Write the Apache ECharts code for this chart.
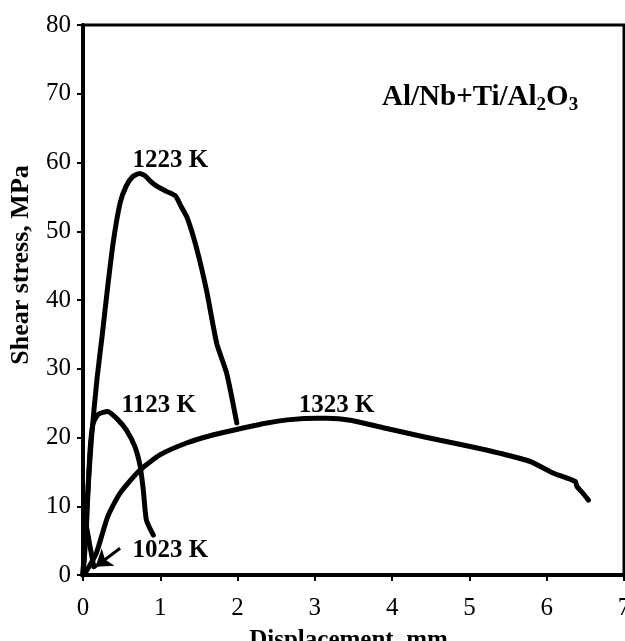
<!DOCTYPE html>
<html>
<head>
<meta charset="utf-8">
<script src="https://cdn.jsdelivr.net/npm/echarts@6/dist/echarts.min.js"></script>
<style>
  html, body { margin: 0; padding: 0; background: #fff; }
  #chart { width: 625px; height: 641px; }
</style>
</head>
<body>
<div id="chart"></div>
<script>
// shear stress vs displacement, Al/Nb+Ti/Al2O3 joints

var xTicks = [0, 1, 2, 3, 4, 5, 6, 7];
var yTicks = [0, 10, 20, 30, 40, 50, 60, 70, 80];

var curve1023 = [[0, 0], [0.03, 8], [0.09, 4.2], [0.14, 1.2]];
var curve1123 = [[0, 0], [0.04, 6], [0.06, 11], [0.09, 18], [0.13, 22], [0.2, 23.4], [0.32, 23.8],
	[0.45, 22.6], [0.56, 21.1], [0.67, 18.7], [0.74, 15.8], [0.78, 12.4], [0.82, 8], [0.91, 5.8]];
var curve1223 = [[0, 0], [0.05, 10], [0.11, 20], [0.18, 28.4], [0.25, 35], [0.31, 41], [0.39, 48.3],
	[0.48, 54.1], [0.56, 56.6], [0.64, 57.9], [0.73, 58.4], [0.8, 58.1], [0.87, 57.3], [0.95, 56.6],
	[1.08, 55.8], [1.2, 55.1], [1.26, 53.8], [1.35, 51.9], [1.47, 47.5], [1.6, 41.3], [1.73, 33.7],
	[1.86, 29.3], [1.99, 22.1]];
var curve1323 = [[0, 0], [0.04, 0.5], [0.17, 3.1], [0.32, 8.5], [0.48, 11.9], [0.74, 15.3], [1.0, 17.5],
	[1.34, 19.2], [1.69, 20.4], [2.0, 21.2], [2.38, 22.1], [2.68, 22.6], [3.03, 22.8], [3.16, 22.8],
	[3.46, 22.5], [3.93, 21.3], [4.45, 20.0], [5.01, 18.7], [5.4, 17.7], [5.79, 16.5], [6.09, 14.8],
	[6.37, 13.6], [6.39, 12.9], [6.46, 12.0], [6.54, 10.9]];

var seriesNames = ['1023 K', '1123 K', '1223 K', '1323 K'];
var labelPos = [[1.13, 3.6], [0.98, 24.7], [1.13, 60.3], [3.28, 24.7]];
var arrow1023 = [[0.48, 3.9], [0.16, 1.2]];

var font = 'Liberation Serif';

function makeSeries(i, data) {
	var s = {
		name: seriesNames[i],
		type: 'line',
		data: data,
		showSymbol: false,
		smooth: i == 0 ? false : 0.2,
		lineStyle: { color: '#000', width: 5, cap: 'round', join: 'round' },
		markPoint: {
			symbol: 'circle',
			symbolSize: 0,
			label: {
				show: true,
				position: 'inside',
				formatter: seriesNames[i],
				fontFamily: font,
				fontWeight: 'bold',
				fontSize: 25,
				color: '#000'
			},
			data: [{ coord: labelPos[i] }]
		}
	};
	return s;
}

var chart = echarts.init(document.getElementById('chart'));

var series = [
	makeSeries(0, curve1023),
	makeSeries(1, curve1123),
	makeSeries(2, curve1223),
	makeSeries(3, curve1323)
];
series[0].markLine = {
	silent: true,
	symbol: ['none', 'arrow'],
	symbolSize: [16, 16],
	label: { show: false },
	lineStyle: { color: '#000', width: 3, type: 'solid' },
	data: [[{ coord: arrow1023[0] }, { coord: arrow1023[1] }]]
};

var option = {
	backgroundColor: '#fff',
	animation: false,
	title: {
		text: 'Al/Nb+Ti/Al{sub|2}O{sub|3}',
		left: 377,
		top: 76,
		textStyle: {
			fontFamily: font,
			fontWeight: 'bold',
			fontSize: 29,
			color: '#000',
			rich: {
				sub: {
					fontFamily: font,
					fontWeight: 'bold',
					fontSize: 19,
					verticalAlign: 'top',
					padding: [15, 0, 0, 0],
					color: '#000'
				}
			}
		}
	},
	grid: {
		left: 83,
		top: 25,
		right: 1,
		bottom: 66,
		outerBoundsMode: 'none',
		show: true,
		borderColor: '#000',
		borderWidth: 3
	},
	xAxis: {
		type: 'value',
		min: xTicks[0],
		max: xTicks[xTicks.length - 1],
		interval: 1,
		name: 'Displacement, mm',
		nameLocation: 'middle',
		nameGap: 53,
		nameTextStyle: {
			fontFamily: font, fontWeight: 'bold', fontSize: 25, color: '#000',
			padding: [0, 10, 0, 0]
		},
		axisLine: { lineStyle: { color: '#000', width: 4 } },
		axisTick: { length: 6, lineStyle: { color: '#000', width: 2 } },
		axisLabel: { fontFamily: font, fontSize: 25, color: '#000', margin: 21 },
		splitLine: { show: false }
	},
	yAxis: {
		type: 'value',
		min: yTicks[0],
		max: yTicks[yTicks.length - 1],
		interval: 10,
		name: 'Shear stress, MPa',
		nameLocation: 'middle',
		nameGap: 49,
		nameTextStyle: {
			fontFamily: font, fontWeight: 'bold', fontSize: 26, color: '#000',
			padding: [0, 0, 0, 70]
		},
		axisLine: { lineStyle: { color: '#000', width: 4 } },
		axisTick: { length: 6, lineStyle: { color: '#000', width: 2 } },
		axisLabel: { fontFamily: font, fontSize: 25, color: '#000', margin: 12 },
		splitLine: { show: false }
	},
	series: series
};

chart.setOption(option);
</script>
</body>
</html>
